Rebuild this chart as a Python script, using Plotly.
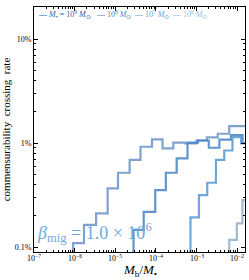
import math
import plotly.graph_objects as go

# ---- data ----
zero_rate = 1e-5  # empty bins (below the axis floor)

edges_9 = [9.2e-7, 1.70e-6, 3.38e-6, 6.50e-6, 1.17e-5, 2.26e-5, 4.18e-5, 8.03e-5,
           1.46e-4, 2.69e-4, 5.18e-4, 9.95e-4, 1.80e-3, 3.33e-3, 6.40e-3, 2.19e-2]
rate_9 = [1.09e-3, 1.63e-3, 2.11e-3, 3.66e-3, 5.18e-3, 6.87e-3, 9.21e-3, 1.086e-2,
          8.89e-3, 1.007e-2, 9.89e-3, 1.057e-2, 1.135e-2, 1.228e-2, 1.456e-2]

edges_8 = [2.82e-5, 5.02e-5, 9.66e-5, 1.76e-4, 3.25e-4, 6.01e-4, 1.09e-3, 2.01e-3,
           3.66e-3, 7.03e-3, 1.36e-2, 2.19e-2]
rate_8 = [1.46e-3, 2.18e-3, 3.53e-3, 5.18e-3, 7.13e-3, 1.007e-2, 1.057e-2, 9.01e-3,
          1.076e-2, 1.19e-2, 1.0e-2]

edges_7 = [7.11e-4, 1.15e-3, 1.84e-3, 3.01e-3, 4.83e-3, 7.69e-3, 1.25e-2, 2.19e-2]
rate_7 = [1.93e-3, 3.16e-3, 4.15e-3, 6.87e-3, 8.47e-3, 1.14e-2, 9.93e-3]

edges_6 = [6.40e-3, 9.84e-3, 1.35e-2, 2.19e-2]
rate_6 = [1.17e-3, 1.69e-3, 2.83e-3]

series_names = ["10<sup>9</sup>", "10<sup>8</sup>", "10<sup>7</sup>", "10<sup>6</sup>"]
x_tick_vals = [1e-7, 1e-6, 1e-5, 1e-4, 1e-3, 1e-2]
x_tick_text = ["10<sup>−7</sup>", "10<sup>−6</sup>", "10<sup>−5</sup>",
               "10<sup>−4</sup>", "10<sup>−3</sup>", "10<sup>−2</sup>"]
y_tick_vals = [1e-3, 1e-2, 1e-1]
y_tick_text = ["0.1%", "1%", "10%"]

# ---- styling ----
line_colors = ["rgba(95,140,195,0.80)", "rgba(70,130,195,0.85)",
               "rgba(85,150,210,0.85)", "rgba(150,178,205,0.9)"]
legend_colors = ["#2d65a5", "#4a86c5", "#64a2d9", "#8fbfe6"]
FONT = "Liberation Serif"

fig = go.Figure()
all_series = [(edges_9, rate_9), (edges_8, rate_8), (edges_7, rate_7), (edges_6, rate_6)]
for (edges, rates), col in zip(all_series, line_colors):
    xs = [edges[0]] + list(edges)
    ys = [zero_rate] + list(rates) + [rates[-1]]
    fig.add_trace(go.Scatter(x=xs, y=ys, mode="lines", line_shape="hv",
                             line=dict(color=col, width=2.2), showlegend=False,
                             hoverinfo="skip"))

x_minor = [m * 10.0 ** k for k in range(-7, -1) for m in range(2, 10)]
y_minor = [m * 10.0 ** k for k in range(-3, 0) for m in range(2, 10)]

fig.update_layout(
    width=249, height=280,
    margin=dict(l=32, r=3, t=7, b=28),
    plot_bgcolor="white", paper_bgcolor="white",
    font=dict(family=FONT, color="black", size=9),
    showlegend=False,
)
fig.update_xaxes(type="log", range=[-7, -1.806], showgrid=False, zeroline=False,
                 showline=True, linecolor="black", linewidth=1, mirror="allticks",
                 ticks="inside", ticklen=4, tickcolor="black",
                 tickvals=x_tick_vals, showticklabels=False,
                 minor=dict(tickvals=x_minor, ticks="inside", ticklen=2,
                            tickcolor="black", showgrid=False))
fig.update_yaxes(type="log", range=[-3.048, -0.692], showgrid=False, zeroline=False,
                 showline=True, linecolor="black", linewidth=1, mirror="allticks",
                 ticks="inside", ticklen=4, tickcolor="black",
                 tickvals=y_tick_vals, ticktext=y_tick_text,
                 tickfont=dict(size=8, family=FONT),
                 minor=dict(tickvals=y_minor, ticks="inside", ticklen=2,
                            tickcolor="black", showgrid=False),
                 title=dict(text="commensurability  crossing  rate",
                            font=dict(size=11, family=FONT), standoff=4))

def px_x(px):
    return (px - 32) / 214.0

def px_y(py):
    return (252 - py) / 245.0

# x tick labels placed close to the axis, as in the reference
for v, t in zip(x_tick_vals, x_tick_text):
    fig.add_annotation(xref="x", yref="paper", x=math.log10(v), y=px_y(258),
                       xanchor="center", yanchor="middle", showarrow=False,
                       text=t, font=dict(size=8, family=FONT, color="black"))

fig.add_annotation(xref="paper", yref="paper", x=px_x(139), y=px_y(270),
                   xanchor="center", yanchor="middle", showarrow=False,
                   text="<i>M</i><sub>b</sub>/<i>M</i><sub>•</sub>",
                   font=dict(size=13, family=FONT, color="black"))

# legend built from annotations (compact, like the reference)
legend_x = [34, 93, 131, 170]
for i, (name, col, lx) in enumerate(zip(series_names, legend_colors, legend_x)):
    lead = "<i>M</i><sub>•</sub> = " if i == 0 else ""
    fig.add_annotation(xref="paper", yref="paper", x=px_x(lx), y=px_y(15),
                       xanchor="left", yanchor="middle", showarrow=False,
                       text="— " + lead + name + " <i>M</i><sub>⊙</sub>",
                       font=dict(size=8, color=col, family=FONT))

fig.add_annotation(xref="paper", yref="paper", x=px_x(33), y=px_y(232),
                   xanchor="left", yanchor="middle", showarrow=False,
                   text="<i>β</i><sub>mig</sub> = 1.0 × 10<sup>6</sup>",
                   font=dict(size=18, color="#6fa8dc", family=FONT))

fig.write_html("out.html", config={"displayModeBar": False},
               post_script="document.body.style.margin='0';document.body.style.padding='0';")
